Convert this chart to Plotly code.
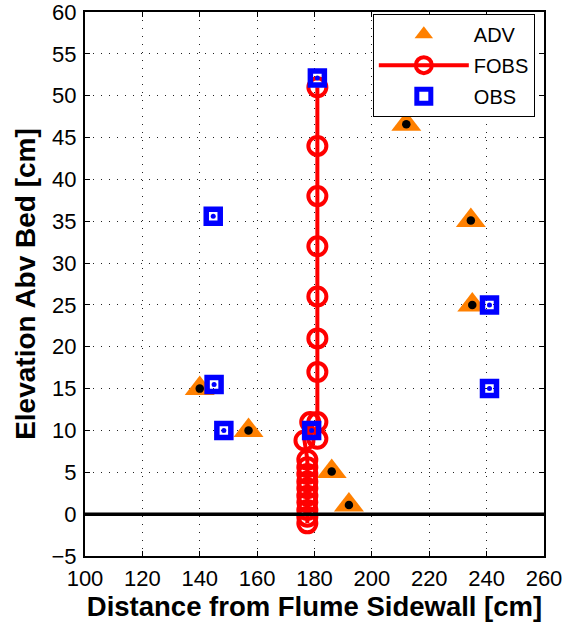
import plotly.graph_objects as go

# ADV measurements (distance from sidewall, elevation above bed)
adv_x = [212, 234.5, 235, 140, 157, 186, 192]
adv_y = [46.6, 35.1, 25, 15, 10, 5.1, 1.1]

# FOBS profile
fobs_x = [181, 181, 181, 181, 181, 181, 181, 181, 181,
          178.5, 176.5,
          177.5, 177.5, 177.5, 177.5, 177.5, 177.5, 177.5, 177.5, 177.5, 177.5]
fobs_y = [51, 44, 38, 32, 26, 21, 17, 11, 9,
          11, 8.8,
          6.5, 5.6, 4.8, 3.9, 3.1, 2.2, 1.4, 0.5, -0.3, -1.1]

# OBS measurements
obs_x = [181, 144.7, 145, 148.4, 179, 241, 241]
obs_y = [52.1, 35.6, 15.5, 10, 10, 25, 15]

# bed line
bed_x = [100, 260]
bed_y = [0, 0]

x_ticks = [100, 120, 140, 160, 180, 200, 220, 240, 260]
y_ticks = [-5, 0, 5, 10, 15, 20, 25, 30, 35, 40, 45, 50, 55, 60]

FONT = "Liberation Sans, Arial, Helvetica, sans-serif"
ORANGE = "#FF8000"
RED = "#FF0000"
BLUE = "#0000FF"

fig = go.Figure()

fig.add_trace(go.Scatter(
    x=adv_x, y=adv_y, mode="markers", name="ADV", legendgroup="a",
    marker=dict(symbol="triangle-up", size=26, color=ORANGE,
                line=dict(width=0)),
))
fig.add_trace(go.Scatter(
    x=adv_x, y=adv_y, mode="markers", showlegend=False, hoverinfo="skip",
    marker=dict(symbol="circle", size=8.5, color="black", line=dict(width=0)),
))
fig.add_trace(go.Scatter(
    x=fobs_x, y=fobs_y, mode="lines+markers", name="FOBS", legendgroup="b",
    line=dict(color=RED, width=4),
    marker=dict(symbol="circle-open", size=18, color=RED,
                line=dict(width=4, color=RED)),
))
fig.add_trace(go.Scatter(
    x=obs_x, y=obs_y, mode="markers", name="OBS", legendgroup="c",
    marker=dict(symbol="square-open", size=14, color=BLUE,
                line=dict(width=5.5, color=BLUE)),
))
fig.add_trace(go.Scatter(
    x=obs_x, y=obs_y, mode="markers", showlegend=False, hoverinfo="skip",
    marker=dict(symbol="circle", size=5, color=BLUE, line=dict(width=0)),
))
fig.add_trace(go.Scatter(
    x=bed_x, y=bed_y, mode="lines", showlegend=False, hoverinfo="skip",
    line=dict(color="black", width=3.5),
))

axis_common = dict(
    showline=True, linecolor="black", linewidth=2, mirror="ticks",
    ticks="inside", ticklen=5, tickcolor="black", tickwidth=1,
    showgrid=True, gridcolor="#222222", gridwidth=1, griddash="1px,7px",
    zeroline=False, ticklabeloverflow="allow",
    tickfont=dict(family=FONT, size=22, color="black"),
)

fig.update_xaxes(
    range=[100, 260], tickvals=x_ticks, ticktext=[str(v) for v in x_ticks],
    title=dict(text="<b>Distance from Flume Sidewall [cm]</b>",
               font=dict(family=FONT, size=27.5, color="black"), standoff=0),
    ticklabelstandoff=2,
    **axis_common,
)
fig.update_yaxes(
    range=[-5, 60], tickvals=y_ticks,
    ticktext=[("\u2212" + str(-v)) if v < 0 else str(v) for v in y_ticks],
    title=dict(text="<b>Elevation Abv Bed [cm]</b>",
               font=dict(family=FONT, size=28, color="black"), standoff=8),
    ticklabelstandoff=2,
    **axis_common,
)

fig.update_layout(
    width=565, height=623,
    margin=dict(l=85, r=21, t=12, b=67, autoexpand=False),
    paper_bgcolor="white", plot_bgcolor="white",
    showlegend=True,
    legend=dict(
        x=0.98, y=0.997, xanchor="right", yanchor="top",
        bgcolor="white", bordercolor="black", borderwidth=1,
        font=dict(family=FONT, size=20, color="black"),
        itemwidth=90, tracegroupgap=2, itemsizing="trace",
    ),
)

fig.write_html("out.html")
